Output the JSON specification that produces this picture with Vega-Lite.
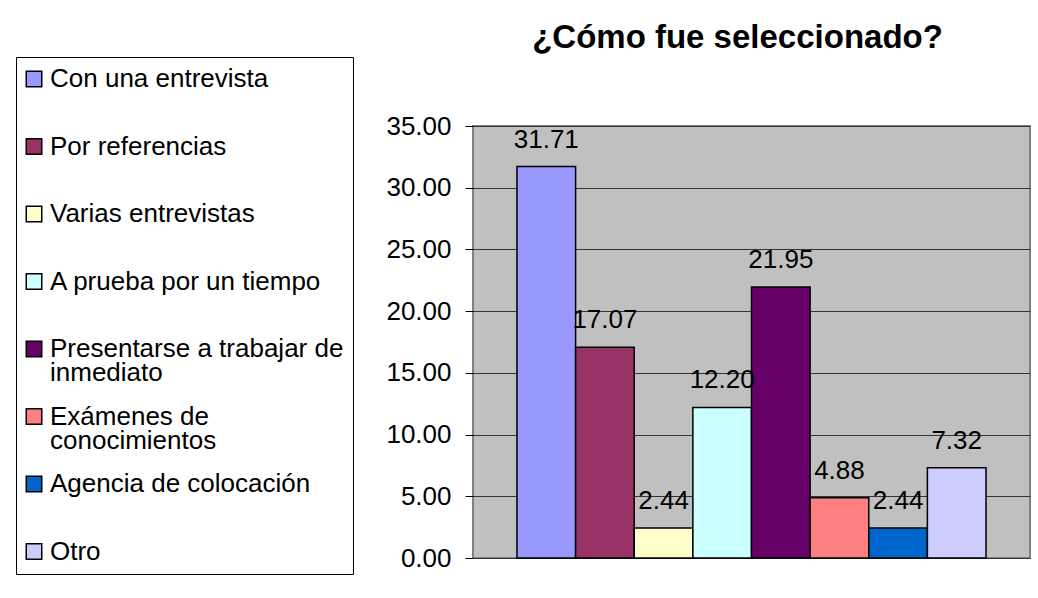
{
  "$schema": "https://vega.github.io/schema/vega-lite/v6.json",
  "autosize": {"type": "none"},
  "padding": {"left": 473, "top": 126, "right": 8, "bottom": 40},
  "width": 557,
  "height": 432,
  "background": "white",
  "title": {
    "text": "¿Cómo fue seleccionado?",
    "font": "Liberation Sans",
    "fontSize": 33,
    "fontWeight": "bold",
    "color": "black",
    "anchor": "middle",
    "baseline": "alphabetic",
    "dx": -14,
    "dy": 33,
    "offset": 9
  },
  "data": {
    "values": [
      {"metodo": "Con una entrevista", "porcentaje": 31.71},
      {"metodo": "Por referencias", "porcentaje": 17.07},
      {"metodo": "Varias entrevistas", "porcentaje": 2.44},
      {"metodo": "A prueba por un tiempo", "porcentaje": 12.20},
      {"metodo": "Presentarse a trabajar de inmediato", "porcentaje": 21.95},
      {"metodo": "Exámenes de conocimientos", "porcentaje": 4.88},
      {"metodo": "Agencia de colocación", "porcentaje": 2.44},
      {"metodo": "Otro", "porcentaje": 7.32}
    ]
  },
  "encoding": {
    "x": {
      "field": "metodo",
      "type": "nominal",
      "sort": null,
      "axis": null,
      "scale": {"paddingInner": 0, "paddingOuter": 0.75}
    },
    "y": {
      "field": "porcentaje",
      "type": "quantitative",
      "scale": {"domain": [0, 35], "nice": false},
      "axis": {
        "title": null,
        "values": [0, 5, 10, 15, 20, 25, 30, 35],
        "format": ".2f",
        "labelFont": "Liberation Sans",
        "labelFontSize": 26,
        "labelColor": "black",
        "labelPadding": 14,
        "tickSize": 8,
        "tickColor": "black",
        "tickWidth": 1,
        "domain": false,
        "grid": true,
        "gridColor": "#333333",
        "gridWidth": 1
      }
    }
  },
  "layer": [
    {
      "mark": {"type": "bar", "stroke": "black", "strokeWidth": 1.5},
      "encoding": {
        "color": {
          "field": "metodo",
          "type": "nominal",
          "sort": null,
          "scale": {
            "domain": ["Con una entrevista", "Por referencias", "Varias entrevistas", "A prueba por un tiempo", "Presentarse a trabajar de inmediato", "Exámenes de conocimientos", "Agencia de colocación", "Otro"],
            "range": ["#9999FF", "#993366", "#FFFFCC", "#CCFFFF", "#660066", "#FF8080", "#0066CC", "#CCCCFF"]
          },
          "legend": {
            "title": null,
            "orient": "none",
            "legendX": -457,
            "legendY": -69,
            "direction": "vertical",
            "gridAlign": "all",
            "strokeColor": "black",
            "fillColor": "white",
            "padding": 9,
            "symbolType": "square",
            "symbolSize": 240,
            "symbolOffset": -4,
            "symbolStrokeColor": "black",
            "symbolStrokeWidth": 1.5,
            "labelFont": "Liberation Sans",
            "labelFontSize": 26,
            "labelColor": "black",
            "labelOffset": 3,
            "labelLimit": 400,
            "rowPadding": 17.5,
            "labelExpr": "datum.label == 'Presentarse a trabajar de inmediato' ? ['Presentarse a trabajar de', 'inmediato'] : datum.label == 'Exámenes de conocimientos' ? ['Exámenes de', 'conocimientos'] : datum.label",
            "encode": {
              "labels": {"update": {"lineHeight": {"value": 24}}}
            }
          }
        }
      }
    },
    {
      "mark": {
        "type": "text",
        "font": "Liberation Sans",
        "fontSize": 26,
        "color": "black",
        "baseline": "alphabetic",
        "dy": -19
      },
      "encoding": {
        "text": {"field": "porcentaje", "type": "quantitative", "format": ".2f"}
      }
    }
  ],
  "config": {
    "view": {"fill": "#C0C0C0", "stroke": "#808080", "strokeWidth": 2}
  }
}
